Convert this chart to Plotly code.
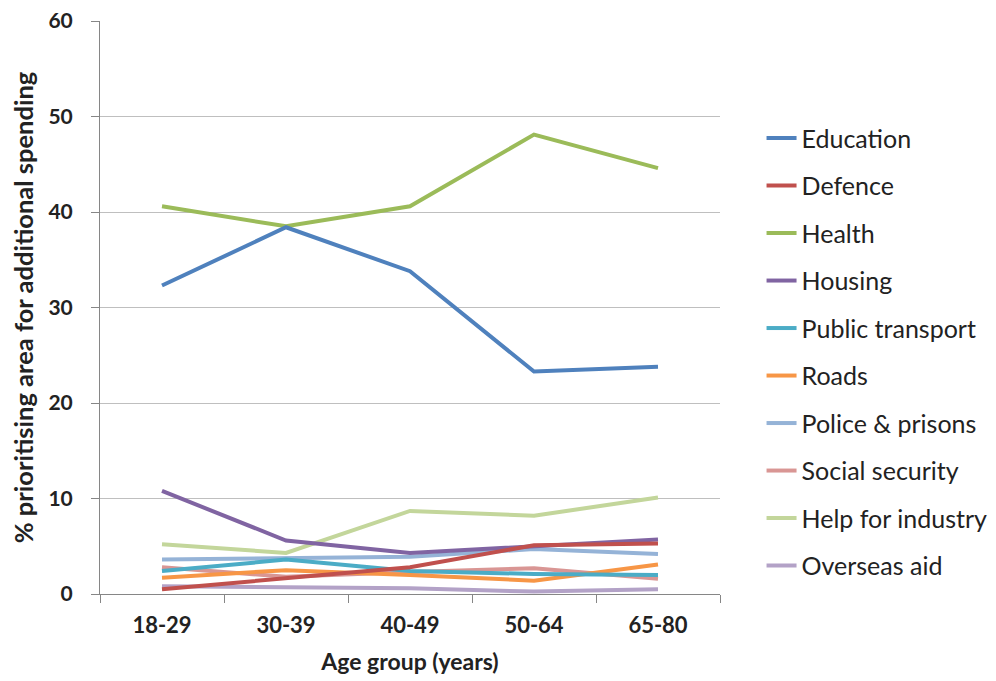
import plotly.graph_objects as go

age_groups = ["18-29", "30-39", "40-49", "50-64", "65-80"]

education = [32.3, 38.4, 33.8, 23.3, 23.8]
defence = [0.5, 1.7, 2.8, 5.1, 5.3]
health = [40.6, 38.5, 40.6, 48.1, 44.6]
housing = [10.8, 5.6, 4.3, 5.0, 5.7]
public_transport = [2.4, 3.6, 2.4, 2.1, 2.0]
roads = [1.7, 2.5, 2.0, 1.4, 3.1]
police_prisons = [3.6, 3.8, 3.9, 4.7, 4.2]
social_security = [2.8, 1.8, 2.3, 2.7, 1.6]
help_for_industry = [5.2, 4.3, 8.7, 8.2, 10.1]
overseas_aid = [0.8, 0.65, 0.6, 0.25, 0.5]

series = [
    ("Education", education, "#4F81BD"),
    ("Defence", defence, "#C0504D"),
    ("Health", health, "#9BBB59"),
    ("Housing", housing, "#8064A2"),
    ("Public transport", public_transport, "#4BACC6"),
    ("Roads", roads, "#F79646"),
    ("Police & prisons", police_prisons, "#95B3D7"),
    ("Social security", social_security, "#D99694"),
    ("Help for industry", help_for_industry, "#C3D69B"),
    ("Overseas aid", overseas_aid, "#B3A2C7"),
]

fig = go.Figure()
for i, (name, vals, col) in enumerate(series):
    fig.add_trace(go.Scatter(
        x=age_groups, y=vals, name=name, mode="lines",
        line=dict(color=col, width=4),
        legendgroup=name, legendrank=i + 1,
    ))
# draw big series on top
fig.data = tuple(fig.data[::-1])

font_family = "Lato, 'Open Sans', sans-serif"
fig.update_layout(
    width=988, height=673,
    margin=dict(l=92, r=276, t=13, b=87, autoexpand=False),
    plot_bgcolor="white", paper_bgcolor="white",
    font=dict(family=font_family, color="#222222"),
    showlegend=True,
    legend=dict(
        x=1.067, xanchor="left", y=0.4227, yanchor="middle",
        font=dict(size=25, family=font_family, color="#222222"),
        tracegroupgap=12, traceorder="grouped",
        bgcolor="rgba(0,0,0,0)",
    ),
    xaxis=dict(
        type="category", automargin=False,
        showgrid=False,
        showline=True, linecolor="#868686", linewidth=1,
        ticks="outside", tickson="boundaries", ticklen=8, tickcolor="#868686",
        ticklabelstandoff=12,
        tickfont=dict(size=22, family=font_family, color="#222222", weight="bold"),
        title=dict(text="<b>Age group (years)</b>", font=dict(size=23, family=font_family, color="#222222"), standoff=16),
        range=[-0.5, 4.5],
    ),
    yaxis=dict(
        range=[0, 60], dtick=10, automargin=False,
        showgrid=True, gridcolor="#BFBFBF", gridwidth=1,
        showline=True, linecolor="#868686", linewidth=1,
        ticks="outside", ticklen=8, tickcolor="#868686",
        ticklabelstandoff=14, ticklabeloverflow="allow",
        zeroline=False,
        tickfont=dict(size=21, family=font_family, color="#222222", weight="bold"),
        title=dict(text="<b>% prioritising area for additional spending</b>", font=dict(size=25.5, family=font_family, color="#222222"), standoff=10),
    ),
)

fig.write_html("out.html")
